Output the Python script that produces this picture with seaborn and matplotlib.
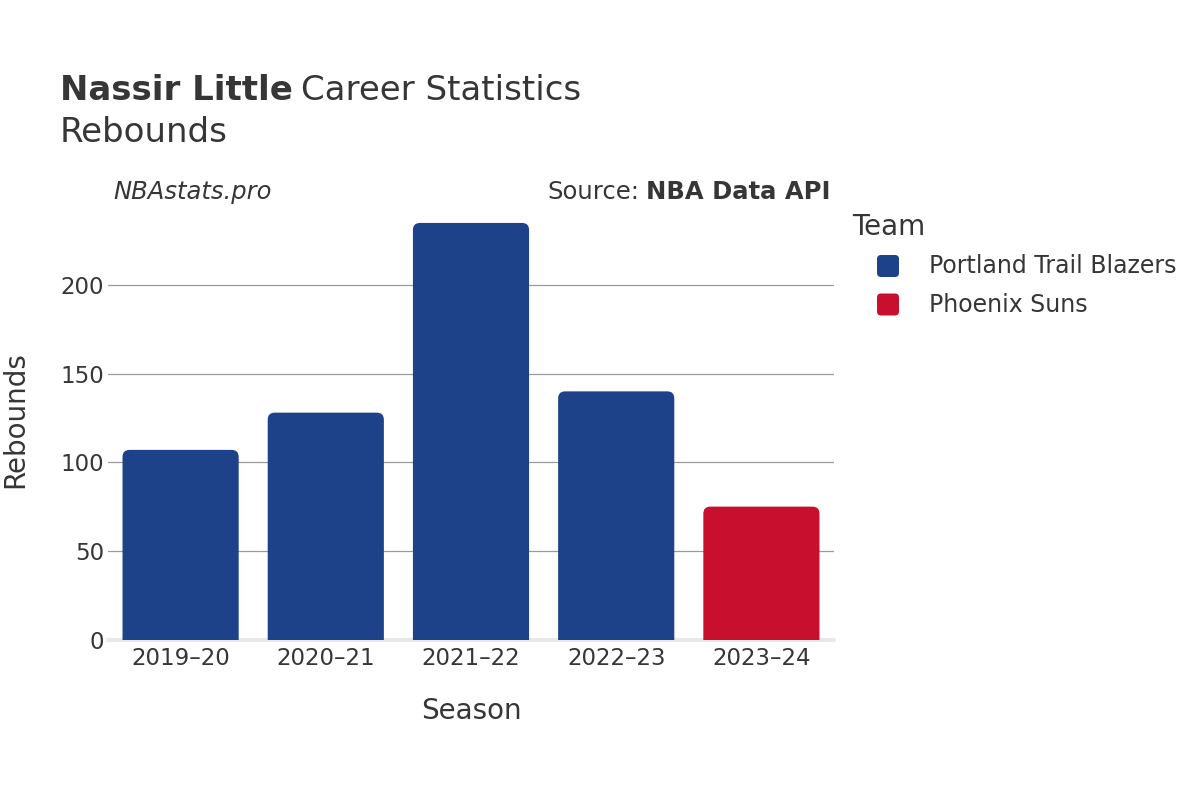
import matplotlib
matplotlib.use("Agg")
import matplotlib.pyplot as plt
from matplotlib.patches import FancyBboxPatch
from matplotlib.transforms import IdentityTransform
import seaborn as sns
import pandas as pd

seasons = ["2019–20", "2020–21", "2021–22", "2022–23", "2023–24"]
rebounds = [107, 128, 235, 140, 75]
teams = ["Portland Trail Blazers", "Portland Trail Blazers", "Portland Trail Blazers",
         "Portland Trail Blazers", "Phoenix Suns"]
team_names = ["Portland Trail Blazers", "Phoenix Suns"]
team_colors = ["#1D428A", "#C8102E"]
y_ticks = [0, 50, 100, 150, 200]

sns.set_theme(style="white")
plt.rcParams["font.family"] = ["DejaVu Sans"]
TXT = "#363636"

df = pd.DataFrame({"Season": seasons, "Rebounds": rebounds, "Team": teams})

W, H = 1200, 800
fig = plt.figure(figsize=(12, 8), dpi=100)
left, right, top, bottom = 108, 834, 200, 639.6
ax = fig.add_axes([left / W, 1 - bottom / H, (right - left) / W, (bottom - top) / H])

sns.barplot(data=df, x="Season", y="Rebounds", hue="Team", order=seasons,
            hue_order=team_names, palette=dict(zip(team_names, team_colors)),
            dodge=False, width=0.8, saturation=1, ax=ax, legend=False)

ymax = (bottom - top) / 1.773
ax.set_ylim(0, ymax)
ax.set_xlim(-0.5, len(seasons) - 0.5)

# rounded top corners
px_per_x = (right - left) / len(seasons)
px_per_y = (bottom - top) / ymax
r_px = 7
r = r_px / px_per_x
aspect = px_per_x / px_per_y
for p in list(ax.patches):
    h = p.get_height()
    if h <= 0:
        continue
    x0, w = p.get_x(), p.get_width()
    fc = p.get_facecolor()
    p.remove()
    ext = 10
    fb = FancyBboxPatch((x0, -ext), w, h + ext,
                        boxstyle=f"round,pad=0,rounding_size={r}",
                        mutation_aspect=aspect, facecolor=fc, edgecolor="none",
                        clip_on=True, zorder=2)
    ax.add_patch(fb)

ax.set_yticks(y_ticks)
ax.set_yticklabels([str(v) for v in y_ticks], fontsize=16.5, color=TXT)
ax.set_xticks(range(len(seasons)))
ax.set_xticklabels(seasons, fontsize=16.5, color=TXT)
ax.grid(axis="y", color="#9a9a9a", linewidth=0.9, zorder=0)
ax.set_axisbelow(True)
for s in ax.spines.values():
    s.set_visible(False)
ax.axhline(0, color="#e8e8e8", linewidth=3, zorder=1, clip_on=False)
ax.tick_params(axis="y", length=0, pad=3)
ax.tick_params(axis="x", length=0, pad=5)
ax.set_xlabel("")
ax.set_ylabel("")

def fy(y):
    return 1 - y / H

fig.text(15 / W, fy(420), "Rebounds", rotation=90, ha="center", va="center",
         fontsize=20, color=TXT)
fig.text(471 / W, fy(711), "Season", ha="center", va="center", fontsize=20, color=TXT)

t1 = fig.text(60 / W, fy(91), "Nassir Little", fontsize=24.5, fontweight="bold",
              color=TXT, ha="left", va="center")
fig.canvas.draw()
bb = t1.get_window_extent()
fig.text(bb.x1 / W + 8 / W, fy(91), "Career Statistics", fontsize=24.5, color=TXT,
         ha="left", va="center")
fig.text(60 / W, fy(133), "Rebounds", fontsize=24.5, color=TXT, ha="left", va="center")

fig.text(113 / W, fy(192), "NBAstats.pro", fontsize=17.5, style="italic", color=TXT,
         ha="left", va="center")
s2 = fig.text(830 / W, fy(192), "NBA Data API", fontsize=17.5, fontweight="bold",
              color=TXT, ha="right", va="center")
fig.canvas.draw()
bb2 = s2.get_window_extent()
fig.text(bb2.x0 / W - 6 / W, fy(192), "Source:", fontsize=17.5, color=TXT,
         ha="right", va="center")

# legend
fig.text(852 / W, fy(227), "Team", fontsize=20, color=TXT, ha="left", va="center")
for i, (name, col) in enumerate(zip(team_names, team_colors)):
    yc = 266 + i * 38.5
    sq = 22
    fig.add_artist(FancyBboxPatch((888 - sq / 2, (H - yc) - sq / 2), sq, sq,
                                  boxstyle="round,pad=0,rounding_size=4",
                                  transform=IdentityTransform(), facecolor=col,
                                  edgecolor="none"))
    fig.text(929 / W, fy(yc), name, fontsize=17, color=TXT, ha="left", va="center")

fig.savefig("out.png", dpi=100)
